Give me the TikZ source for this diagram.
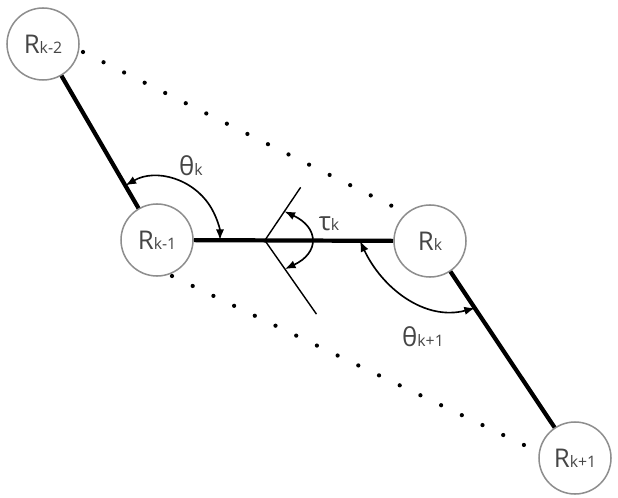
\documentclass[tikz,border=0pt]{standalone}
\usepackage{fontspec}
\setmainfont{Open Sans}
\usepackage{tikz}
\usetikzlibrary{arrows.meta,positioning,calc}
\definecolor{ringgray}{HTML}{8E8E8E}
\definecolor{labelgray}{HTML}{454545}
\newcommand{\idx}[1]{{\fontsize{13.5}{13.5}\selectfont #1}}
\tikzset{
  robot/.style={circle, draw=ringgray, line width=1.3pt, minimum size=2.16cm, inner sep=0pt,
    text=labelgray, font=\fontsize{22}{22}\selectfont},
  anglabel/.style={text=labelgray, font=\fontsize{22}{22}\selectfont, inner sep=0pt},
  bond/.style={line width=3.6pt},
  spacing/.style={line width=3.6pt, line cap=round, dash pattern=on 0pt off 19.6pt},
  angarrow/.style={{Latex[length=3.2mm,width=2.5mm]}-{Latex[length=3.2mm,width=2.5mm]}, line width=1.4pt},
  arm/.style={line width=1.2pt}
}
\begin{document}
\begin{tikzpicture}[x=0.03cm,y=0.03cm]
      \useasboundingbox (0,0) rectangle (618,497);

      \node (rkm2)[robot] at (43,453) {R\idx{k-2}};
      \node (rkm1)[robot] at (157,257) {R\idx{k-1}};
      \node (rk)[robot] at (430,256) {R\idx{k}};
      \node (rkp1)[robot] at (575,39) {R\idx{k+1}};

      \draw[bond] (rkm2) -- (rkm1);
      \draw[bond] (rkm1) -- (rk);
      \draw[bond] (rk) -- (rkp1);

      \coordinate (top a) at ($(rkm2)+(40,-8)$);
      \coordinate (top b) at ($(rk)+(-38,35)$);
      \coordinate (bot a) at ($(rkm1)+(15,-36)$);
      \coordinate (bot b) at ($(rkp1)+(-51,13)$);
      \draw[spacing] (top a) -- (top b);
      \draw[spacing] (bot a) -- (bot b);

      % twist between the two planes
      \coordinate (vtx) at ($(rkm1)!0.395!(rk)$);
      \draw[arm] (vtx) -- ++(56:64);
      \draw[arm] (vtx) -- ++(-55:90);
      \draw[angarrow] ($(vtx)+(56:35)$) to[out=-25,in=25,looseness=1.7] ($(vtx)+(-55:35)$);
      \node (tau)[anglabel] at (329,273) {τ\idx{k}};

      \draw[angarrow] ($(rkm1)+(120:63)$) arc[start angle=120, end angle=0, radius=63];
      \node (thk)[anglabel] at (191,331) {θ\idx{k}};

      \draw[angarrow] ($(rk)+(-70,0)$) to[out=-65,in=195] ($(rk)+(45,-67)$);
      \node (thkp)[anglabel] at (423,160) {θ\idx{k+1}};

    \end{tikzpicture}
\end{document}
